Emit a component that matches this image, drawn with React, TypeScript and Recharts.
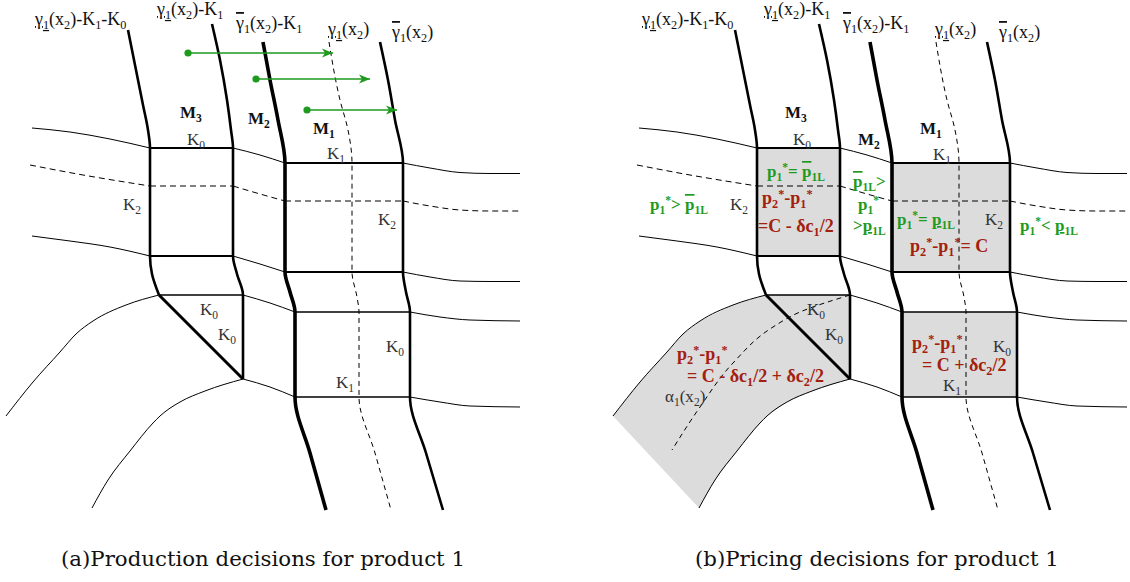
import React from 'react';
import { ComposedChart, Line, Scatter, XAxis, YAxis } from 'recharts';

// both panels use the same local frame (a panel is 523 wide), panel (b) sits 607px to the right
const PANEL_W = 523;
const PANEL_H = 582;
const PANEL_B_LEFT = 607;

const SERIF = '"Liberation Serif", "Times New Roman", serif';
const WIDE_SERIF = '"DejaVu Serif", serif';
const INK = '#111';
const GREY_TEXT = '#333';
const GREEN = '#1e9a1e';
const RED = '#a3200f';
const SHADE = '#dcdcdc';

type Pt = { x: number; y: number };
const pts = (a: number[][]): Pt[] => a.map(([x, y]) => ({ x, y }));

// thick region boundaries, top to bottom
const lowK1K0 = pts([[128, 30], [136, 70], [143, 105], [148, 130], [150, 148], [150, 256], [152, 274], [159, 295]]);
const lowK1 = pts([[212, 24], [220, 60], [227, 100], [231, 130], [233, 148], [233, 256], [237, 274], [243, 295], [243, 379]]);
const highK1 = pts([[263, 42], [270, 80], [278, 120], [285, 163], [285, 272], [290, 292], [295, 312], [295, 397], [310, 453], [326, 510]]);
const high = pts([[380, 42], [388, 80], [395, 120], [403, 163], [403, 272], [406, 292], [410, 312], [410, 397], [426, 453], [443, 510]]);
const lowDashed = pts([[329, 42], [340, 100], [348, 130], [352, 163], [352, 272], [357, 297], [359, 312], [359, 397], [375, 453], [391, 510]]);
const triangleDiag = pts([[159, 295], [243, 379]]);

// K0 level (top row)
const row1a = pts([[32, 128], [70, 132], [110, 139], [150, 148]]);
const m3Top = pts([[150, 148], [233, 148]]);
const row1b = pts([[233, 148], [260, 155], [285, 163]]);
const m1Top = pts([[285, 163], [403, 163]]);
const row1c = pts([[403, 163], [430, 168], [460, 172.5], [490, 173.5], [520, 173.5]]);

// K2 dashed level
const k2a = pts([[30, 165], [83, 175], [150, 186]]);
const k2b = pts([[150, 186], [233, 186]]);
const k2c = pts([[233, 186], [260, 194], [285, 201]]);
const k2d = pts([[285, 201], [403, 201]]);
const k2e = pts([[403, 201], [430, 206], [460, 210], [490, 211], [520, 211]]);

// lower edge of the K level band
const row2a = pts([[32, 236], [70, 241], [110, 247], [150, 256]]);
const m3Bottom = pts([[150, 256], [233, 256]]);
const row2b = pts([[233, 256], [260, 264], [285, 272]]);
const m1Bottom = pts([[285, 272], [403, 272]]);
const row2c = pts([[403, 272], [430, 277], [460, 281], [490, 281.5], [520, 281.5]]);

// alpha band edges
const arcUpper = pts([[6, 416], [33, 382], [60, 352], [76, 334], [93, 321], [126, 305], [159, 295]]);
const triTop = pts([[159, 295], [243, 295]]);
const linkUpper = pts([[243, 295], [270, 303], [295, 312]]);
const lowBoxTop = pts([[295, 312], [410, 312]]);
const tailUpper = pts([[410, 312], [440, 317], [470, 320], [520, 321]]);

const arcLower = pts([[92, 508], [108, 480], [130, 451], [153, 423], [160, 416], [180, 402], [205, 391], [243, 379]]);
const linkLower = pts([[243, 379], [270, 387], [295, 397]]);
const lowBoxBottom = pts([[295, 397], [410, 397]]);
const tailLower = pts([[410, 397], [440, 402], [470, 406], [520, 407]]);

// panel (a): production shifts
const shiftArrows = [
  pts([[188, 53], [333, 53]]),
  pts([[256, 79], [370, 79]]),
  pts([[307, 110], [397, 110]]),
];

// panel (b): shaded price regions and alpha_1 curve
const shadeM3 = pts([[150, 148], [233, 148], [233, 256], [150, 256]]);
const shadeM1 = pts([[285, 163], [403, 163], [403, 272], [285, 272]]);
const shadeLow = pts([[295, 312], [410, 312], [410, 397], [295, 397]]);
const shadeBand = pts([[6, 416], [33, 382], [60, 352], [76, 334], [93, 321], [126, 305], [159, 295], [243, 295], [243, 379],
  [205, 391], [180, 402], [160, 416], [153, 423], [130, 451], [108, 480], [92, 508]]);
const alphaDashed = pts([[243, 295], [193, 312], [166, 327], [126, 363], [93, 407], [65, 450]]);

// labels: [..] underline, {..} overline, _c subscript, ^c superscript
const boundaryLabels = [
  { x: 35, y: 25, text: '[γ_1](x_2)-K_1-K_0' },
  { x: 157, y: 15, text: '[γ_1](x_2)-K_1' },
  { x: 236, y: 29, text: '{γ}_1(x_2)-K_1' },
  { x: 328, y: 35, text: '[γ_1](x_2)' },
  { x: 392, y: 38, text: '{γ}_1(x_2)' },
];
const machineLabelsA = [
  { x: 180, y: 118, text: 'M_3' },
  { x: 248, y: 124, text: 'M_2' },
  { x: 313, y: 134, text: 'M_1' },
];
const machineLabelsB = [
  { x: 178, y: 118, text: 'M_3' },
  { x: 251, y: 145, text: 'M_2' },
  { x: 313, y: 134, text: 'M_1' },
];
const capacityLabelsA = [
  { x: 187, y: 145, text: 'K_0' },
  { x: 123, y: 210, text: 'K_2' },
  { x: 327, y: 159, text: 'K_1' },
  { x: 378, y: 225, text: 'K_2' },
  { x: 200, y: 315, text: 'K_0' },
  { x: 218, y: 340, text: 'K_0' },
  { x: 386, y: 352, text: 'K_0' },
  { x: 336, y: 388, text: 'K_1' },
];
const capacityLabelsB = [
  { x: 186, y: 145, text: 'K_0' },
  { x: 123, y: 210, text: 'K_2' },
  { x: 326, y: 160, text: 'K_1' },
  { x: 378, y: 225, text: 'K_2' },
  { x: 200, y: 315, text: 'K_0' },
  { x: 218, y: 340, text: 'K_0' },
  { x: 386, y: 352, text: 'K_0' },
  { x: 336, y: 391, text: 'K_1' },
];
const priceLabels = [
  { x: 160, y: 177, text: 'p_1^*= {p}_1_L' },
  { x: 43, y: 210, text: 'p_1^*> {p}_1_L' },
  { x: 246, y: 187, text: '{p}_1_L>' },
  { x: 251, y: 210, text: 'p_1^*' },
  { x: 246, y: 231, text: '>[p]_1_L' },
  { x: 290, y: 225, text: 'p_1^*= [p]_1_L' },
  { x: 413, y: 231, text: 'p_1^*< [p]_1_L' },
];
const marginLabels = [
  { x: 155, y: 204, text: 'p_2^*-p_1^*' },
  { x: 151, y: 232, text: '=C - δc_1/2' },
  { x: 303, y: 252, text: 'p_2^*-p_1^*= C' },
  { x: 70, y: 360, text: 'p_2^*-p_1^*' },
  { x: 80, y: 382, text: '= C - δc_1/2 + δc_2/2' },
  { x: 305, y: 349, text: 'p_2^*-p_1^*' },
  { x: 315, y: 371, text: '= C + δc_2/2' },
];
const alphaLabel = [{ x: 58, y: 402, text: 'α_1(x_2)' }];
const captionA = [{ x: 61, y: 566, text: '(a)Production decisions for product 1' }];
const captionB = [{ x: 695 - PANEL_B_LEFT, y: 566, text: '(b)Pricing decisions for product 1' }];

type TextStyle = { size: number; color: string; weight: number; family: string };
const BOUNDARY_TEXT: TextStyle = { size: 18, color: INK, weight: 400, family: SERIF };
const MACHINE_TEXT: TextStyle = { size: 17, color: INK, weight: 700, family: SERIF };
const K_TEXT: TextStyle = { size: 17, color: GREY_TEXT, weight: 400, family: SERIF };
const PRICE_TEXT: TextStyle = { size: 17, color: GREEN, weight: 700, family: SERIF };
const MARGIN_TEXT: TextStyle = { size: 18, color: RED, weight: 700, family: SERIF };
const CAPTION_TEXT: TextStyle = { size: 21.3, color: INK, weight: 400, family: WIDE_SERIF };

function parseMarkup(s: string) {
  const segs: { t: string; sh: number; deco: string }[] = [];
  let deco = '';
  for (let i = 0; i < s.length; i++) {
    const c = s[i];
    if (c === '[') { deco = 'underline'; continue; }
    if (c === '{') { deco = 'overline'; continue; }
    if (c === ']' || c === '}') { deco = ''; continue; }
    let sh = 0;
    let ch = c;
    if (c === '_') { sh = 1; ch = s[++i]; }
    else if (c === '^') { sh = -1; ch = s[++i]; }
    const last = segs[segs.length - 1];
    if (last && last.sh === sh && last.deco === deco) last.t += ch;
    else segs.push({ t: ch, sh, deco });
  }
  return segs;
}

function RichText({ x, y, text, st }: { x: number; y: number; text: string; st: TextStyle }) {
  let cur = 0;
  return (
    <text x={x} y={y} fill={st.color}
      style={{ whiteSpace: 'pre', fontFamily: st.family, fontSize: st.size, fontWeight: st.weight }}>
      {parseMarkup(text).map((s, i) => {
        const target = s.sh === 1 ? st.size * 0.22 : s.sh === -1 ? -st.size * 0.33 : 0;
        const dy = target - cur;
        cur = target;
        return (
          <tspan key={i} dy={dy}
            style={{ fontSize: s.sh ? st.size * 0.68 : st.size, textDecoration: s.deco || 'none' }}>
            {s.t}
          </tspan>
        );
      })}
    </text>
  );
}

const labelShape = (st: TextStyle) => (p: any) => <RichText x={p.cx} y={p.cy} text={p.payload.text} st={st} />;
const noMark = () => <g />;

const arrowEnds = (p: any) => {
  const { cx, cy, index } = p;
  if (index === 0) return <circle key={`s${index}`} cx={cx} cy={cy} r={3.6} fill={GREEN} />;
  return (
    <path key={`e${index}`} d={`M${cx},${cy} L${cx - 11},${cy - 4.5} L${cx - 8},${cy} L${cx - 11},${cy + 4.5} Z`}
      fill={GREEN} />
  );
};

function curve(key: string, data: Pt[], width: number, type: any, dash?: string) {
  return (
    <Line key={key} data={data} dataKey="y" type={type} stroke="#000" strokeWidth={width}
      strokeDasharray={dash} dot={false} activeDot={false} isAnimationActive={false} legendType="none" />
  );
}

function sharedDrawing() {
  return [
    curve('r1a', row1a, 1, 'monotoneX'),
    curve('r1b', row1b, 1, 'monotoneX'),
    curve('r1c', row1c, 1, 'monotoneX'),
    curve('k2a', k2a, 1, 'monotoneX', '6 4'),
    curve('k2b', k2b, 1, 'linear', '6 4'),
    curve('k2c', k2c, 1, 'monotoneX', '6 4'),
    curve('k2d', k2d, 1, 'linear', '6 4'),
    curve('k2e', k2e, 1, 'monotoneX', '6 4'),
    curve('r2a', row2a, 1, 'monotoneX'),
    curve('r2b', row2b, 1, 'monotoneX'),
    curve('r2c', row2c, 1, 'monotoneX'),
    curve('au', arcUpper, 1, 'monotoneX'),
    curve('lu', linkUpper, 1, 'monotoneX'),
    curve('tu', tailUpper, 1, 'monotoneX'),
    curve('al', arcLower, 1, 'monotoneX'),
    curve('ll', linkLower, 1, 'monotoneX'),
    curve('tl', tailLower, 1, 'monotoneX'),
    curve('m3t', m3Top, 2.2, 'linear'),
    curve('m3b', m3Bottom, 2.2, 'linear'),
    curve('m1t', m1Top, 2.2, 'linear'),
    curve('m1b', m1Bottom, 2.2, 'linear'),
    curve('tt', triTop, 1.6, 'linear'),
    curve('lbt', lowBoxTop, 1.5, 'linear'),
    curve('lbb', lowBoxBottom, 1.5, 'linear'),
    curve('dash', lowDashed, 1, 'monotoneY', '5 4'),
    curve('b1', lowK1K0, 2.6, 'monotoneY'),
    curve('b2', lowK1, 2.6, 'monotoneY'),
    curve('b3', highK1, 3.6, 'monotoneY'),
    curve('b4', high, 2.6, 'monotoneY'),
    curve('diag', triangleDiag, 3, 'linear'),
  ];
}

function Panel({ left, children }: { left: number; children: React.ReactNode }) {
  return (
    <div style={{ position: 'absolute', left, top: 0, width: PANEL_W, height: PANEL_H }}>
      <ComposedChart width={PANEL_W} height={PANEL_H} margin={{ top: 0, right: 0, bottom: 0, left: 0 }}>
        <XAxis type="number" dataKey="x" domain={[0, PANEL_W]} allowDataOverflow hide />
        <YAxis type="number" dataKey="y" domain={[0, PANEL_H]} allowDataOverflow reversed hide />
        {children}
      </ComposedChart>
    </div>
  );
}

const shadeSeries = (key: string, data: Pt[]) => (
  <Scatter key={key} data={data} line={{ fill: SHADE, stroke: 'none' }} shape={noMark} zIndex={50}
    isAnimationActive={false} legendType="none" />
);

const textSeries = (key: string, data: any[], st: TextStyle) => (
  <Scatter key={key} data={data} shape={labelShape(st)} isAnimationActive={false} legendType="none" />
);

export default function App() {
  return (
    <div style={{ position: 'absolute', left: 0, top: 0, width: 1130, height: 582, background: '#fff' }}>
      <Panel left={0}>
        {sharedDrawing()}
        {shiftArrows.map((a, i) => (
          <Line key={`arrow${i}`} data={a} dataKey="y" type="linear" stroke={GREEN} strokeWidth={1.6}
            dot={arrowEnds} activeDot={false} isAnimationActive={false} legendType="none" />
        ))}
        {textSeries('bl', boundaryLabels, BOUNDARY_TEXT)}
        {textSeries('ml', machineLabelsA, MACHINE_TEXT)}
        {textSeries('kl', capacityLabelsA, K_TEXT)}
        {textSeries('cap', captionA, CAPTION_TEXT)}
      </Panel>
      <Panel left={PANEL_B_LEFT}>
        {shadeSeries('sBand', shadeBand)}
        {shadeSeries('sM3', shadeM3)}
        {shadeSeries('sM1', shadeM1)}
        {shadeSeries('sLow', shadeLow)}
        {sharedDrawing()}
        {curve('alpha', alphaDashed, 1, 'monotoneY', '5 4')}
        {textSeries('bl', boundaryLabels, BOUNDARY_TEXT)}
        {textSeries('ml', machineLabelsB, MACHINE_TEXT)}
        {textSeries('kl', capacityLabelsB, K_TEXT)}
        {textSeries('pl', priceLabels, PRICE_TEXT)}
        {textSeries('mg', marginLabels, MARGIN_TEXT)}
        {textSeries('al', alphaLabel, K_TEXT)}
        {textSeries('cap', captionB, CAPTION_TEXT)}
      </Panel>
    </div>
  );
}
